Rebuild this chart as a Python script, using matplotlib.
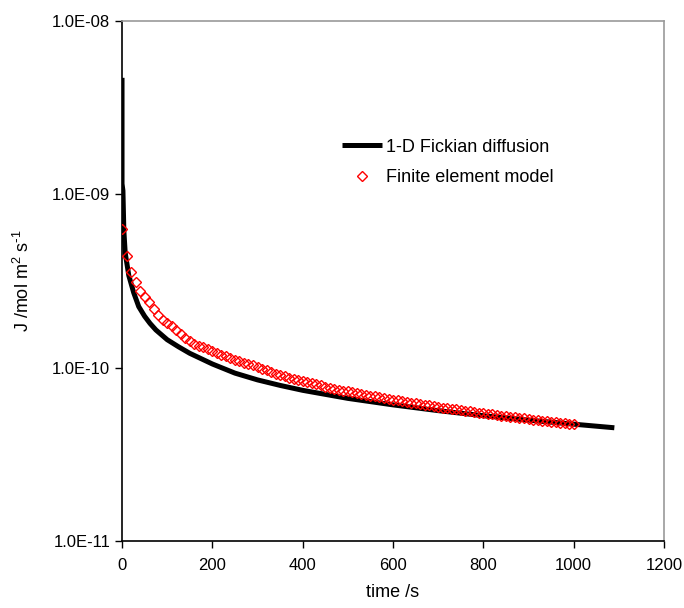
import numpy as np
import matplotlib
matplotlib.use('Agg')
import matplotlib.pyplot as plt
from matplotlib.ticker import FixedLocator, NullLocator

plt.rcParams['font.family'] = ['Liberation Sans', 'DejaVu Sans']
plt.rcParams['mathtext.default'] = 'regular'

# 1-D Fickian diffusion (solid line)
fick_t = [0, 0, 2, 4, 7, 15, 26, 37, 50, 62, 75, 100, 125, 150, 200, 250, 300,
          350, 400, 500, 600, 700, 800, 900, 1000, 1090]
fick_J = [4.7e-9, 1.15e-9, 1.05e-9, 6.2e-10, 4.6e-10, 3.4e-10, 2.7e-10, 2.25e-10,
          1.98e-10, 1.8e-10, 1.65e-10, 1.45e-10, 1.32e-10, 1.21e-10, 1.05e-10,
          9.3e-11, 8.5e-11, 7.9e-11, 7.4e-11, 6.65e-11, 6.1e-11, 5.65e-11,
          5.28e-11, 4.98e-11, 4.72e-11, 4.5e-11]

# finite element model (diamonds), every 10 s from 0 to 1000
fem_t = list(range(0, 1001, 10))
fem_J = [6.35, 4.40, 3.55, 3.10, 2.78, 2.56, 2.38, 2.18, 2.02, 1.89,
         1.81, 1.73, 1.65, 1.57, 1.49, 1.42, 1.37, 1.34, 1.31, 1.28,
         1.25, 1.22, 1.19, 1.16, 1.14, 1.11, 1.09, 1.07, 1.05, 1.03,
         1.005, 0.985, 0.965, 0.945, 0.925, 0.905, 0.89, 0.875, 0.862, 0.848,
         0.835, 0.823, 0.811, 0.800, 0.789, 0.778, 0.767, 0.757, 0.747, 0.738,
         0.729, 0.721, 0.713, 0.705, 0.697, 0.690, 0.683, 0.676, 0.669, 0.662,
         0.655, 0.648, 0.641, 0.635, 0.629, 0.623, 0.617, 0.611, 0.605, 0.599,
         0.594, 0.589, 0.584, 0.579, 0.574, 0.569, 0.564, 0.559, 0.555, 0.550,
         0.546, 0.541, 0.537, 0.533, 0.529, 0.525, 0.521, 0.517, 0.513, 0.509,
         0.505, 0.501, 0.497, 0.494, 0.490, 0.487, 0.484, 0.481, 0.478, 0.475,
         0.472]
fem_J = [v * 1e-10 for v in fem_J]

y_ticks = [1e-11, 1e-10, 1e-9, 1e-8]
y_labels = ['1.0E-11', '1.0E-10', '1.0E-09', '1.0E-08']
x_ticks = [0, 200, 400, 600, 800, 1000, 1200]

fig = plt.figure(figsize=(6.84, 6.08), dpi=100)
ax = fig.add_axes([0.1784, 0.1102, 0.7924, 0.8553])

ax.plot(fick_t, fick_J, color='black', lw=3.6, solid_capstyle='butt',
        label='1-D Fickian diffusion', zorder=2)
ax.plot(fem_t, fem_J, ls='none', marker='D', ms=5, mfc='none', mec='#ff0000',
        mew=1.0, label='Finite element model', zorder=3)

ax.set_yscale('log')
ax.set_xlim(0, 1200)
ax.set_ylim(1e-11, 1e-8)
ax.yaxis.set_major_locator(FixedLocator(y_ticks))
ax.yaxis.set_minor_locator(NullLocator())
ax.set_yticklabels(y_labels)
ax.set_xticks(x_ticks)
ax.tick_params(axis='both', direction='out', length=5, width=1, labelsize=12,
               colors='black')
ax.tick_params(axis='x', pad=7)

for s in ['left', 'bottom']:
    ax.spines[s].set_color('black')
    ax.spines[s].set_linewidth(1.2)
for s in ['top', 'right']:
    ax.spines[s].set_color('#9a9a9a')
    ax.spines[s].set_linewidth(1.2)

ax.set_xlabel('time /s', fontsize=13, labelpad=8)
ax.set_ylabel(r'J /mol m$^{2}$ s$^{\text{-}1}$', fontsize=13, labelpad=14)

ax.legend(loc='center left', bbox_to_anchor=(0.406, 0.728), frameon=False,
          fontsize=13, handlelength=2.2, handletextpad=0.22, labelspacing=0.75,
          borderaxespad=0, borderpad=0)

fig.savefig('out.png', dpi=100)
